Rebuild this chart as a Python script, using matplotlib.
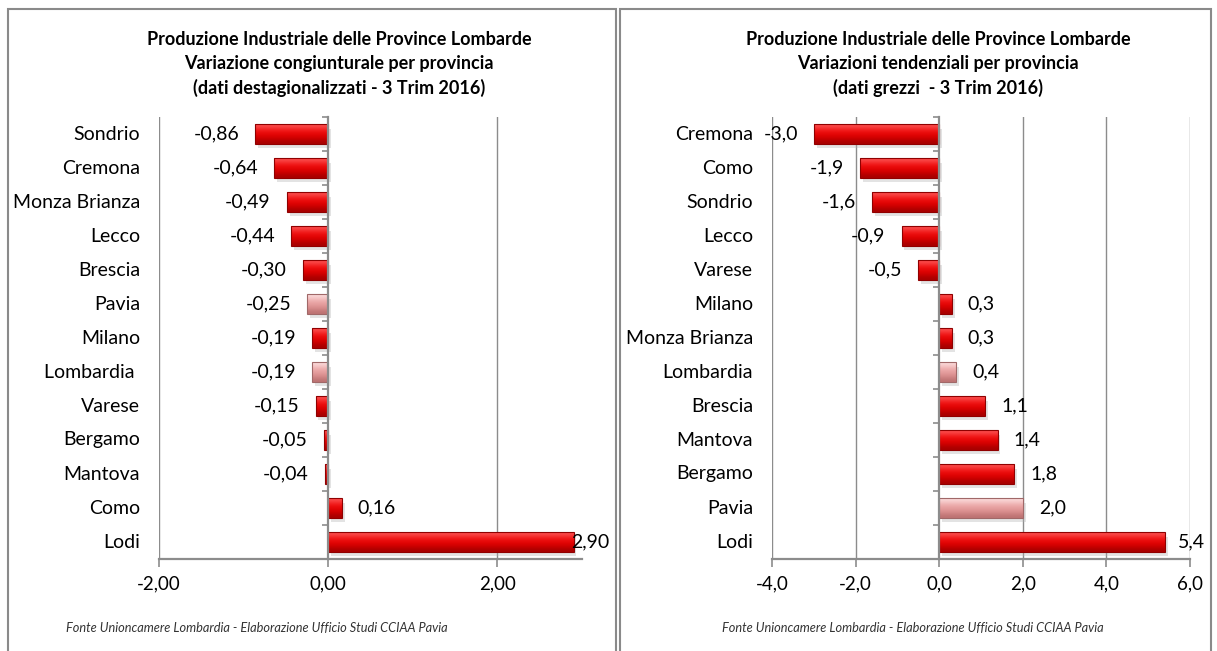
import matplotlib
matplotlib.use("Agg")
import matplotlib.pyplot as plt
import matplotlib.patheffects as pe
from matplotlib.patches import Rectangle
from matplotlib.transforms import blended_transform_factory, offset_copy
import numpy as np

plt.rcParams['font.family'] = ['Lato', 'DejaVu Sans']

# ---------------- data ----------------
left_cats = ["Sondrio", "Cremona", "Monza Brianza", "Lecco", "Brescia", "Pavia", "Milano",
             "Lombardia ", "Varese", "Bergamo", "Mantova", "Como", "Lodi"]
left_vals = [-0.86, -0.64, -0.49, -0.44, -0.30, -0.25, -0.19, -0.19, -0.15, -0.05, -0.04, 0.16, 2.90]
left_hl = ["Pavia", "Lombardia "]
left_title = ("Produzione Industriale delle Province Lombarde\n"
              "Variazione congiunturale per provincia\n"
              "(dati destagionalizzati - 3 Trim 2016)")
left_xticks = [-2, 0, 2]
left_xlim = (-2, 3)
left_fmt = "{:.2f}"

right_cats = ["Cremona", "Como", "Sondrio", "Lecco", "Varese", "Milano", "Monza Brianza",
              "Lombardia", "Brescia", "Mantova", "Bergamo", "Pavia", "Lodi"]
right_vals = [-3.0, -1.9, -1.6, -0.9, -0.5, 0.3, 0.3, 0.4, 1.1, 1.4, 1.8, 2.0, 5.4]
right_hl = ["Lombardia", "Pavia"]
right_title = ("Produzione Industriale delle Province Lombarde\n"
               "Variazioni tendenziali per provincia\n"
               "(dati grezzi  - 3 Trim 2016)")
right_xticks = [-4, -2, 0, 2, 4, 6]
right_xlim = (-4, 6)
right_fmt = "{:.1f}"

source = "Fonte Unioncamere Lombardia - Elaborazione Ufficio Studi CCIAA Pavia"

W, H = 1217, 651
fig = plt.figure(figsize=(W / 100, H / 100), dpi=100)
fig.patch.set_facecolor("white")

GRID = "#8c8c8c"

red_grad = np.array([[0.98, 0.30, 0.30], [0.95, 0.10, 0.10], [0.90, 0.02, 0.02],
                     [0.82, 0.0, 0.0], [0.66, 0.0, 0.0]])
pink_grad = np.array([[0.98, 0.85, 0.85], [0.94, 0.70, 0.70], [0.90, 0.62, 0.62],
                      [0.85, 0.55, 0.55], [0.74, 0.45, 0.45]])


def draw_panel(rect_px, cats, vals, hl, xticks, xlim, fmt, title, title_cx, frame_px, src_cx,
               text_limit_px):
    x0, y0, x1, y1 = rect_px
    ax = fig.add_axes([x0 / W, 1 - y1 / H, (x1 - x0) / W, (y1 - y0) / H])
    n = len(cats)
    y = np.arange(n)
    ax.set_xlim(*xlim)
    ax.set_ylim(n - 0.5, -0.5)

    bars = ax.barh(y, vals, height=0.56, color="#dd0000", edgecolor="none", zorder=3)
    for b, c in zip(bars, cats):
        grad = pink_grad if c in hl else red_grad
        b.set_path_effects([pe.SimplePatchShadow(offset=(2, -3), shadow_rgbFace="#b0b0b0", alpha=0.35),
                            pe.Normal()])
        bx, by = b.get_x(), b.get_y()
        bw, bh = b.get_width(), b.get_height()
        img = grad[:, None, :]
        im = ax.imshow(img, extent=(bx, bx + bw, by + bh, by), aspect="auto",
                       interpolation="bicubic", zorder=4)
        im.set_clip_path(b)
        ec = "#a06868" if c in hl else "#900000"
        ax.add_patch(Rectangle((bx, by), bw, bh, fill=False, edgecolor=ec, lw=0.8, zorder=5))

    # axes styling
    for s in ["top", "right"]:
        ax.spines[s].set_visible(False)
    ax.spines["left"].set_position(("data", 0))
    ax.spines["left"].set_color(GRID)
    ax.spines["left"].set_linewidth(1.6)
    ax.spines["left"].set_zorder(6)
    ax.spines["bottom"].set_color(GRID)
    ax.spines["bottom"].set_linewidth(1.6)

    ax.set_yticks(y)
    ax.set_yticklabels([])
    ax.tick_params(axis="y", which="major", length=0)
    ax.set_yticks(np.arange(-0.5, n, 1.0), minor=True)
    ax.tick_params(axis="y", which="minor", length=4, width=1.2, color=GRID, direction="out")

    ax.set_xticks(xticks)
    ax.set_xticklabels([fmt.format(t).replace(".", ",") for t in xticks])
    ax.tick_params(axis="x", length=6, width=1.2, color=GRID, pad=6, labelsize=13.5)
    for t in xticks:
        if t != 0:
            ax.axvline(t, color=GRID, lw=1.0, zorder=1)

    # category labels at left edge
    tr = blended_transform_factory(ax.transAxes, ax.transData)
    tr = offset_copy(tr, fig=fig, x=-19, y=0, units="dots")
    for yi, c in zip(y, cats):
        ax.text(0, yi, c, transform=tr, ha="right", va="center", fontsize=14)

    # value labels
    fig.canvas.draw()
    r = fig.canvas.get_renderer()
    for yi, v in zip(y, vals):
        lab = fmt.format(v).replace(".", ",")
        off = 16 if v >= 0 else -16
        t = ax.annotate(lab, (v, yi), xytext=(off, 0), textcoords="offset pixels",
                        ha="left" if v >= 0 else "right", va="center", fontsize=14, zorder=7)
        bb = t.get_window_extent(r)
        if bb.x1 > text_limit_px:
            t.set_position((off - (bb.x1 - text_limit_px), 0))

    fig.text(title_cx / W, 1 - 64 / H, title, ha="center", va="center", fontsize=13,
             fontweight="bold", linespacing=1.5)
    fig.text(src_cx / W, 1 - 628 / H, source, ha="center", va="center", fontsize=9.2,
             style="italic", color="#333333")
    fx0, fy0, fx1 = frame_px
    fig.add_artist(Rectangle((fx0 / W, -0.05), (fx1 - fx0) / W, 1.05 - fy0 / H,
                             transform=fig.transFigure, fill=False, edgecolor="#8a8a8a", lw=1.5))
    return ax


draw_panel((159, 117, 582, 559), left_cats, left_vals, left_hl, left_xticks, left_xlim,
           left_fmt, left_title, 339, (8, 9, 616), 257, 609)
draw_panel((772, 117, 1190, 559), right_cats, right_vals, right_hl, right_xticks, right_xlim,
           right_fmt, right_title, 938, (620, 9, 1211), 913, 1205)

fig.savefig("out.png", dpi=100, facecolor="white")
